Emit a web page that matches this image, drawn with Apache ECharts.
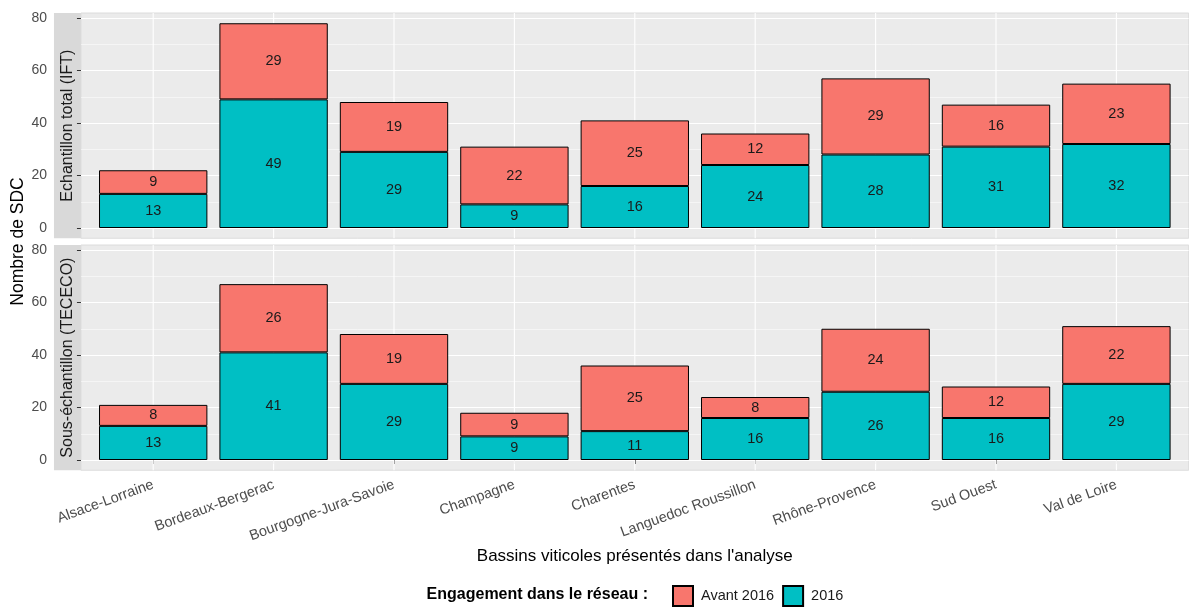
<!DOCTYPE html>
<html>
<head>
<meta charset="utf-8">
<script src="https://cdn.jsdelivr.net/npm/echarts@6/dist/echarts.min.js"></script>
<style>
html,body{margin:0;padding:0;background:#fff;}
#chart{width:1189px;height:610px;}
</style>
</head>
<body>
<div id="chart"></div>
<script>
// ---------- DATA ----------
const categories = ['Alsace-Lorraine','Bordeaux-Bergerac','Bourgogne-Jura-Savoie','Champagne','Charentes','Languedoc Roussillon','Rhône-Provence','Sud Ouest','Val de Loire'];
const facetLabels = ['Echantillon total (IFT)', 'Sous-échantillon (TECECO)'];
const seriesNames = ['Avant 2016', '2016'];
const ift2016  = [13, 49, 29, 9, 16, 24, 28, 31, 32];
const iftAvant = [9, 29, 19, 22, 25, 12, 29, 16, 23];
const tec2016  = [13, 41, 29, 9, 11, 16, 26, 16, 29];
const tecAvant = [8, 26, 19, 9, 25, 8, 24, 12, 22];
const yMin = 0, yMax = 80, yInterval = 20;
const xTitle = "Bassins viticoles présentés dans l'analyse";
const yTitle = 'Nombre de SDC';
const legendTitle = 'Engagement dans le réseau :';

// ---------- LAYOUT ----------
const FONT = 'Liberation Sans, Arial, Helvetica, sans-serif';
const COL_AVANT = '#F8766D', COL_2016 = '#00BFC4';
const step = 120.4;           // category spacing
const c0 = 153.2;             // first category centre
const panelL = c0 - 0.6 * step, panelR = c0 + 8.6 * step;
const innerL = c0 - 0.5 * step, innerW = 9 * step;
const pxPerUnit = 2.625;
const panels = [ { y0: 228 }, { y0: 460 } ];   // pixel of value 0 in each facet
const expLo = -3.9, expHi = 81.9;
const stripW = 27;

const grids = [], xAxes = [], yAxes = [], series = [], graphics = [];
const data2016 = [ift2016, tec2016];
const dataAvant = [iftAvant, tecAvant];

panels.forEach((p, k) => {
  const top80 = p.y0 - yMax * pxPerUnit;
  const pTop = p.y0 - expHi * pxPerUnit;
  const pH = (expHi - expLo) * pxPerUnit;
  grids.push({ left: panelL, width: panelR - panelL, top: top80, height: (yMax - yMin) * pxPerUnit, containLabel: false });
  grids.push({ left: innerL, width: innerW, top: pTop, height: pH, containLabel: false });
  const gA = 2 * k, gB = 2 * k + 1;
  xAxes.push({ gridIndex: gA, type: 'value', min: 0, max: 1, show: false });
  const isBottom = k === panels.length - 1;
  xAxes.push({
    gridIndex: gB, type: 'category', data: categories, show: isBottom,
    axisLine: { show: false },
    axisTick: { show: true, alignWithLabel: true, length: 4, lineStyle: { color: '#333', width: 1 } },
    axisLabel: { rotate: 20, fontSize: 14.5, color: '#4D4D4D', fontFamily: FONT, margin: 14, interval: 0 },
    splitLine: { show: false }
  });
  yAxes.push({
    gridIndex: gA, type: 'value', min: yMin, max: yMax, interval: yInterval, offset: stripW,
    axisLine: { show: false },
    axisTick: { show: true, length: 4, lineStyle: { color: '#333', width: 1 } },
    axisLabel: { fontSize: 14, color: '#4D4D4D', fontFamily: FONT, margin: 7 },
    splitLine: { show: true, lineStyle: { color: '#FFFFFF', width: 1.1 } },
    minorTick: { show: false, splitNumber: 2 },
    minorSplitLine: { show: true, lineStyle: { color: '#FFFFFF', width: 0.5 } }
  });
  yAxes.push({ gridIndex: gB, type: 'value', min: expLo, max: expHi, show: false });

  // vertical major grid lines at category centres
  series.push({
    type: 'custom', xAxisIndex: gB, yAxisIndex: gB, z: 1, silent: true,
    data: categories.map((c, i) => [i, 0]),
    renderItem: function (params, api) {
      const x = api.coord([api.value(0), 0])[0];
      const cs = params.coordSys;
      return { type: 'line', shape: { x1: x, y1: cs.y, x2: x, y2: cs.y + cs.height },
               style: { stroke: '#FFFFFF', lineWidth: 1.1 } };
    }
  });
  const lbl = { show: true, position: 'inside', color: '#1A1A1A', fontSize: 14.5, fontFamily: FONT };
  series.push({
    name: seriesNames[1], type: 'bar', stack: 'p' + k, xAxisIndex: gB, yAxisIndex: gB,
    data: data2016[k], barCategoryGap: '10%', z: 3,
    itemStyle: { color: COL_2016, borderColor: '#000', borderWidth: 1 }, label: lbl
  });
  series.push({
    name: seriesNames[0], type: 'bar', stack: 'p' + k, xAxisIndex: gB, yAxisIndex: gB,
    data: dataAvant[k], barCategoryGap: '10%', z: 3,
    itemStyle: { color: COL_AVANT, borderColor: '#000', borderWidth: 1 }, label: lbl
  });

  graphics.push({ type: 'rect', z: -100, silent: true,
    shape: { x: panelL, y: pTop, width: panelR - panelL, height: pH },
    style: { fill: '#EBEBEB', stroke: '#DCDCDC', lineWidth: 1 } });
  graphics.push({ type: 'rect', z: -100, silent: true,
    shape: { x: panelL - stripW, y: pTop, width: stripW, height: pH },
    style: { fill: '#D9D9D9' } });
  graphics.push({ type: 'text', z: 10, silent: true,
    x: panelL - stripW / 2, y: pTop + pH / 2, rotation: Math.PI / 2,
    style: { text: facetLabels[k], fill: '#1A1A1A', font: '16px ' + FONT, align: 'center', verticalAlign: 'middle' } });
});

graphics.push({ type: 'text', silent: true, x: (panelL + panelR) / 2, y: 556,
  style: { text: xTitle, fill: '#000', font: '17px ' + FONT, align: 'center', verticalAlign: 'middle' } });
graphics.push({ type: 'text', silent: true, x: 18, y: 241.5, rotation: Math.PI / 2,
  style: { text: yTitle, fill: '#000', font: '17.5px ' + FONT, align: 'center', verticalAlign: 'middle' } });
graphics.push({ type: 'text', silent: true, x: 648, y: 595,
  style: { text: legendTitle, fill: '#000', font: 'bold 16px ' + FONT, align: 'right', verticalAlign: 'middle' } });

const chart = echarts.init(document.getElementById('chart'), null, { renderer: 'canvas' });
chart.setOption({
  animation: false,
  backgroundColor: '#FFFFFF',
  textStyle: { fontFamily: FONT },
  grid: grids,
  xAxis: xAxes,
  yAxis: yAxes,
  series: series,
  graphic: graphics,
  legend: {
    data: seriesNames, left: 667, top: 580, orient: 'horizontal',
    itemWidth: 20, itemHeight: 20, itemGap: 8, icon: 'rect',
    textStyle: { fontSize: 14.5, color: '#1A1A1A', fontFamily: FONT, padding: [0, 0, 0, 3] },
    selectedMode: false
  }
});
</script>
</body>
</html>
